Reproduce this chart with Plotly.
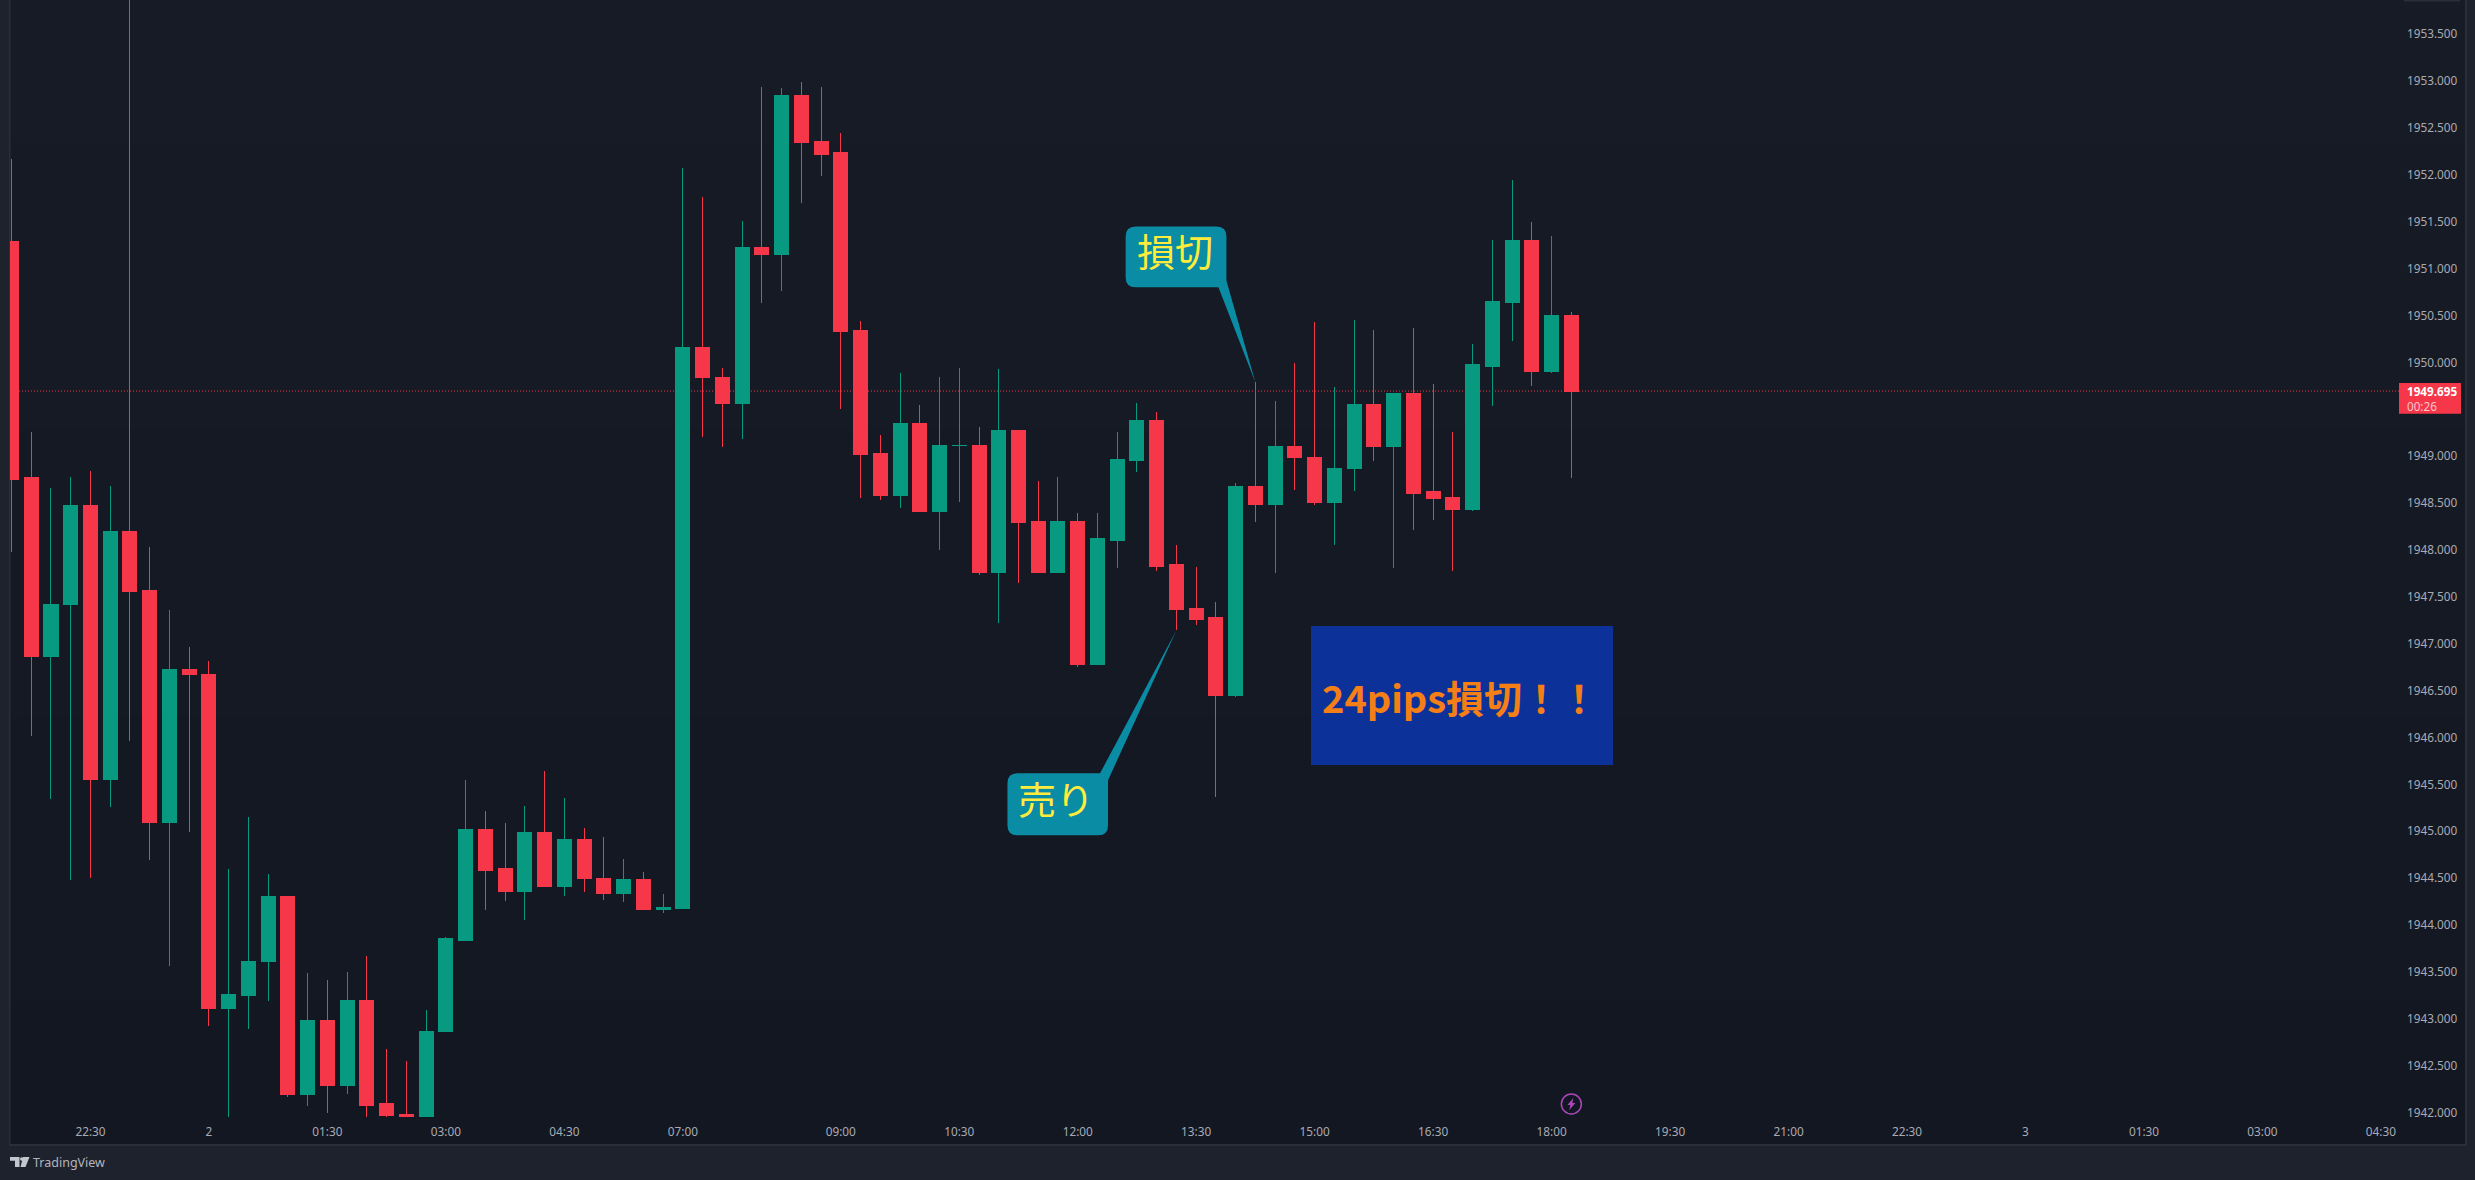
import plotly.graph_objects as go

W, H = 2475, 1180
PANE_L, PANE_R, PANE_B = 10, 2465, 1144

opens = [1951.294,1948.768,1946.867,1947.414,1948.478,1945.557,1948.2,1947.573,1945.088,1946.728,
1946.676,1943.104,1943.251,1943.606,1944.308,1942.197,1942.986,1942.284,1943.198,1942.092,
1941.982,1941.953,1942.859,1943.839,1945.014,1944.598,1944.361,1944.99,1944.414,1944.916,
1944.5,1944.341,1944.48,1944.17,1944.181,1950.164,1949.844,1949.557,1951.231,1951.156,
1952.851,1952.352,1952.235,1950.337,1949.026,1948.586,1949.354,1948.413,1949.115,1949.119,
1947.764,1949.27,1948.299,1947.764,1948.309,1946.782,1948.106,1948.957,1949.376,1947.84,
1947.373,1947.276,1946.443,1948.681,1948.481,1949.099,1948.991,1948.502,1948.864,1949.547,
1949.099,1949.674,1948.62,1948.564,1948.437,1949.961,1950.635,1951.298,1949.9,1950.497]
highs = [1952.168,1949.258,1948.661,1948.778,1948.842,1948.682,1957.0,1948.033,1947.361,1946.965,
1946.815,1944.598,1945.153,1944.545,1944.308,1943.488,1943.414,1943.5,1943.667,1942.675,
1942.549,1943.091,1943.872,1945.545,1945.214,1945.088,1945.267,1945.642,1945.353,1945.034,
1944.937,1944.704,1944.565,1944.328,1952.074,1951.767,1949.941,1951.51,1952.939,1952.927,
1952.99,1952.939,1952.445,1950.442,1949.227,1949.885,1949.544,1949.844,1949.941,1949.313,
1949.932,1949.27,1948.735,1948.776,1948.393,1948.393,1949.257,1949.57,1949.473,1948.051,
1947.819,1947.444,1948.715,1949.787,1949.591,1949.995,1950.432,1949.739,1950.453,1950.348,
1949.674,1950.365,1949.769,1949.26,1950.196,1951.306,1951.946,1951.498,1951.35,1950.54]
lows = [1947.976,1946.015,1945.345,1944.48,1944.501,1945.259,1945.962,1944.692,1943.562,1944.99,
1942.92,1941.953,1942.892,1943.189,1942.169,1942.067,1941.994,1942.197,1941.953,1941.953,
1941.953,1941.953,1942.859,1943.839,1944.161,1944.255,1944.051,1944.414,1944.308,1944.353,
1944.268,1944.246,1944.17,1944.128,1944.181,1949.207,1949.097,1949.182,1950.632,1950.763,
1951.7,1951.99,1949.501,1948.553,1948.532,1948.448,1948.413,1948.001,1948.511,1947.735,
1947.221,1947.647,1947.764,1947.764,1946.752,1946.782,1947.807,1948.832,1947.777,1947.144,
1947.2,1945.368,1946.431,1948.298,1947.753,1948.642,1948.481,1948.054,1948.629,1948.951,
1947.806,1948.215,1948.32,1947.776,1948.416,1949.535,1950.231,1949.752,1949.888,1948.768]
closes = [1948.756,1946.867,1947.423,1948.478,1945.557,1948.2,1947.562,1945.088,1946.728,1946.668,
1943.104,1943.263,1943.614,1944.308,1942.197,1942.986,1942.284,1943.198,1942.08,1941.973,
1941.953,1942.867,1943.851,1945.014,1944.585,1944.361,1944.99,1944.414,1944.916,1944.492,
1944.341,1944.48,1944.17,1944.19,1950.164,1949.835,1949.557,1951.231,1951.156,1952.851,
1952.341,1952.222,1950.325,1949.013,1948.586,1949.354,1948.413,1949.119,1949.119,1947.764,
1949.27,1948.288,1947.764,1948.309,1946.782,1948.119,1948.97,1949.376,1947.828,1947.36,
1947.263,1946.443,1948.681,1948.481,1949.099,1948.991,1948.502,1948.872,1949.547,1949.099,
1949.674,1948.607,1948.554,1948.437,1949.974,1950.645,1951.298,1949.9,1950.497,1949.695]

time_tick_pos = [4,10,16,22,28,34,42,48,54,60,66,72,78,84,90,96,102,108,114,120]
time_tick_txt = ["22:30","2","01:30","03:00","04:30","07:00","09:00","10:30","12:00","13:30",
                 "15:00","16:30","18:00","19:30","21:00","22:30","3","01:30","03:00","04:30"]
# 1949.500 is hidden behind the last-price tag in the reference, so it is not listed
price_ticks = [1942.0,1942.5,1943.0,1943.5,1944.0,1944.5,1945.0,1945.5,1946.0,1946.5,1947.0,1947.5,
               1948.0,1948.5,1949.0,1950.0,1950.5,1951.0,1951.5,1952.0,1952.5,1953.0,1953.5]
price_tick_txt = [f"{v:.3f}" for v in price_ticks]
last_price = 1949.695
countdown = "00:26"
sell_idx, stop_idx = 59, 63
sell_label, stop_label = "売り", "損切"
result_label = "24pips損切！！"

RED, GREEN = "#F53749", "#089981"
OUTER, BORDER, TXT = "#1E222D", "#2A2E39", "#A9ABB3"
CALL, YEL = "#0A8CA5", "#FFEB3B"
SANS = "Noto Sans"
CJK = "Noto Sans CJK JP"

xs = list(range(len(opens)))

# "paper" coordinates span the plot area, so convert page pixels against the pane
def px(x): return (x - PANE_L) / (PANE_R - PANE_L)
def py(y): return 1 - y / PANE_B
def rect(x0, y0, x1, y1, color, layer="below"):
    return dict(type="rect", xref="paper", yref="paper", x0=px(x0), x1=px(x1), y0=py(y0), y1=py(y1),
                fillcolor=color, line_width=0, layer=layer)

shapes = []
N = 8
for k in range(N):
    t = k / (N - 1)
    c = (round(23 - 4 * t), round(27 - 4 * t), round(38 - 4 * t))
    shapes.append(rect(PANE_L, PANE_B * k / N, PANE_R, PANE_B * (k + 1) / N, f"rgb{c}"))
shapes += [rect(9, 0, 10.5, PANE_B + 1, BORDER), rect(9, PANE_B, PANE_R + 1, PANE_B + 2, BORDER),
           rect(PANE_R, 0, PANE_R + 2, PANE_B + 2, BORDER), rect(2404, 0, 2460, 1.5, BORDER)]

shapes.append(dict(type="line", xref="paper", yref="y", x0=px(PANE_L), x1=px(2399), y0=last_price, y1=last_price,
                   line=dict(color=RED, width=1, dash="1px,2px"), layer="below"))
shapes.append(rect(2399, 383, 2461, 413.7, RED, "above"))

def callout(anchor_x, anchor_y, l, t, r, b, tail_corner, tail):
    """Rounded box whose named corner is replaced by a tail; pixel offsets from the candle extreme (y up)."""
    R = 10
    tl = " ".join(f"L {a} {c}" for a, c in tail)
    p = [f"M {l+R} {t}"]
    p += [tl] if tail_corner == "tr" else [f"L {r-R} {t}", f"Q {r} {t} {r} {t-R}"]
    p += [tl] if tail_corner == "br" else [f"L {r} {b+R}", f"Q {r} {b} {r-R} {b}"]
    p += [f"L {l+R} {b}", f"Q {l} {b} {l} {b+R}", f"L {l} {t-R}", f"Q {l} {t} {l+R} {t}", "Z"]
    return dict(type="path", xref="x", yref="y", xsizemode="pixel", ysizemode="pixel",
                xanchor=anchor_x, yanchor=anchor_y, path=" ".join(p),
                fillcolor=CALL, line_width=0, layer="above")

shapes.append(callout(stop_idx, highs[stop_idx], -129.8, 155.9, -29, 95.1, "br",
                      [(-29, 101.6), (0, 0), (-37, 95.1)]))
shapes.append(callout(sell_idx, lows[sell_idx], -169, -143, -68.4, -205, "tr",
                      [(-76.4, -143), (0, 0), (-68.4, -150)]))

shapes.append(rect(1311, 626, 1613, 765, "#0C3299", "above"))

shapes.append(dict(type="circle", xref="x", yref="paper", xsizemode="pixel", xanchor=79, x0=-10, x1=10,
                   y0=py(1114), y1=py(1094), line=dict(color="#AB47BC", width=1.5), fillcolor="rgba(0,0,0,0)", layer="above"))
shapes.append(dict(type="path", xref="x", yref="paper", xsizemode="pixel", ysizemode="pixel", xanchor=79, yanchor=py(1104),
                   path="M 2 6 L -4 -1 L -1 -1 L -2 -6 L 4 1 L 1 1 Z", fillcolor="#AB47BC", line_width=0, layer="above"))

def poly(pts, color="#C4C6CD"):
    return dict(type="path", xref="paper", yref="paper",
                path="M " + " L ".join(f"{px(x):.6f} {py(y):.6f}" for x, y in pts) + " Z",
                fillcolor=color, line_width=0, layer="above")
shapes.append(poly([(10, 1157), (19.5, 1157), (19.5, 1167), (15, 1167), (15, 1160.8), (10, 1160.8)]))
shapes.append(poly([(23, 1157), (29.5, 1157), (25.5, 1167), (20.5, 1167)]))
shapes.append(dict(type="circle", xref="paper", yref="paper", x0=px(20), x1=px(23.5), y0=py(1160.8), y1=py(1157.2),
                   fillcolor="#C4C6CD", line_width=0, layer="above"))

def note(text, size, color, x=None, y=None, xref="paper", yref="paper", xs_=0, ys_=0, anchor="center", family=CJK, bold=False, align="center"):
    return dict(text=f"<b>{text}</b>" if bold else text, x=x, y=y, xref=xref, yref=yref, xshift=xs_, yshift=ys_,
                showarrow=False, xanchor=anchor, yanchor="middle", align=align,
                font=dict(size=size, color=color, family=family), borderpad=0, borderwidth=0)

price_tag_text = f'<b>{last_price:.3f}</b><br><span style="color:#FBC8CD">{countdown}</span>'
annotations = [
    note(stop_label, 38, YEL, stop_idx, highs[stop_idx], "x", "y", -80, 133),
    note(sell_label, 38, YEL, sell_idx, lows[sell_idx], "x", "y", -120, -167),
    note(result_label, 38, "#F57F17", px(1322), py(696), anchor="left", family=CJK, bold=True),
    note(price_tag_text, 11.7, "#FFFFFF", px(2407), py(398.3), anchor="left", family=SANS, align="left"),
    note("TradingView", 12.5, "#B2B5BE", px(33), py(1162.5), anchor="left", family=SANS),
]

fig = go.Figure(go.Candlestick(
    x=xs, open=opens, high=highs, low=lows, close=closes,
    increasing=dict(line=dict(color=GREEN, width=1), fillcolor=GREEN),
    decreasing=dict(line=dict(color=RED, width=1), fillcolor=RED),
    whiskerwidth=0, showlegend=False, hoverinfo="skip",
))

x_left = (PANE_L - 11.5) / 19.745
x_right = (PANE_R - 11.5) / 19.745
fig.update_layout(
    width=W, height=H, autosize=False,
    margin=dict(l=PANE_L, r=W - PANE_R, t=0, b=H - PANE_B, pad=0),
    paper_bgcolor=OUTER, plot_bgcolor="rgba(0,0,0,0)",
    shapes=shapes, annotations=annotations, showlegend=False, boxgap=0.29, boxgroupgap=0,
    xaxis=dict(range=[x_left, x_right], rangeslider=dict(visible=False), showgrid=False, zeroline=False,
               showline=False, tickmode="array", tickvals=time_tick_pos, ticktext=time_tick_txt,
               ticks="inside", ticklen=5, tickcolor="rgba(0,0,0,0)", ticklabelposition="inside",
               tickangle=0, tickfont=dict(family=SANS, size=11.8, color=TXT)),
    yaxis=dict(range=[1941.664, 1953.866], side="right", showgrid=False, zeroline=False, showline=False,
               tickmode="array", tickvals=price_ticks, ticktext=price_tick_txt,
               ticks="inside", ticklen=7, tickcolor="rgba(0,0,0,0)", ticklabelposition="inside",
               tickfont=dict(family=SANS, size=11.8, color=TXT)),
)

fig.write_html("out.html", config=dict(displayModeBar=False),
               post_script="document.body.style.margin='0';document.body.style.overflow='hidden';"
                           "document.body.style.background='#1E222D';"
                           "document.querySelectorAll('.boxlayer path').forEach(function(p){p.style.shapeRendering='crispEdges';});")
